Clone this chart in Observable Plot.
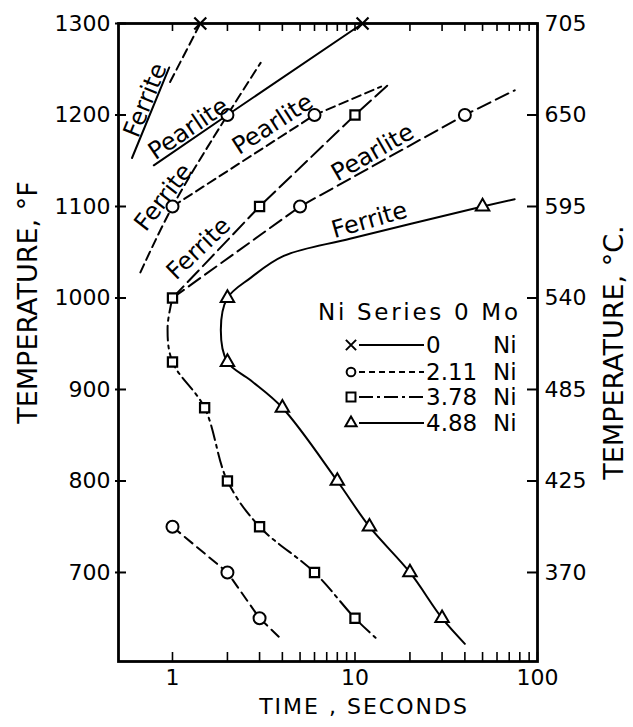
<!DOCTYPE html>
<html><head><meta charset="utf-8">
<script src="https://cdn.jsdelivr.net/npm/d3@7"></script>
<script src="https://cdn.jsdelivr.net/npm/@observablehq/plot@0.6"></script>
<style>
body{margin:0;background:#fff;}
#chart{width:633px;height:727px;}
</style></head><body><div id="chart"></div>
<script>
// ---- data ----
const timeTicks = [1,2,3,4,5,6,7,8,9,10,20,30,40,50,60,70,80,90,100];
const timeLabels = [1,10,100];
const tempF = [700,800,900,1000,1100,1200,1300];
const tempCLabels = ["370","425","485","540","595","650","705"];

// 0 Ni series (x marks, solid)
const ni0Ferrite = [[0.60,1153],[0.96,1252]];
const ni0FerriteUpper = [[0.97,1236],[1.42,1300]];
const ni0Pearlite = [[0.79,1145],[2,1200],[11,1300]];
const ni0Points = [[1.42,1300],[11,1300]];

// 2.11 Ni series (circles, dashed)
const ni211Ferrite = [[0.667,1028],[1,1100],[2,1200],[3.04,1257]];
const ni211Pearlite = [[1,1100],[6,1200],[13.9,1231]];
const ni211Lower = [[1,750],[2,700],[3,650],[4,626]];
const ni211Points = [[1,1100],[2,1200],[6,1200],[1,750],[2,700],[3,650]];

// 3.78 Ni series (squares, dash-dot)
const ni378Ferrite = [[1,1000],[3,1100],[10,1200],[15.8,1236]];
const ni378Pearlite = [[1,1000],[5,1100],[40,1200],[75,1227]];
const ni378PearlitePoints = [[5,1100],[40,1200]];
const ni378C = [[1,1000],[0.94,968],[1,930],[1.5,880],[2,800],[3,750],[6,700],[10,650],[13.4,626]];
const ni378Points = [[1,1000],[3,1100],[10,1200],[1,930],[1.5,880],[2,800],[3,750],[6,700],[10,650]];

// 4.88 Ni series (triangles, solid)
const ni488C = [[75,1108],[50,1100],[9.5,1065],[4.07,1046],[2.68,1022],[2,1000],[1.84,965],[2,930],[2.68,910],[4,880],[8,800],[12,750],[20,700],[30,650],[40,622]];
const ni488Points = [[50,1100],[2,1000],[2,930],[4,880],[8,800],[12,750],[20,700],[30,650]];

// phase annotations
const phaseLabels = ["Ferrite","Pearlite","Ferrite","Pearlite","Ferrite","Pearlite","Ferrite"];
const phaseTime = [0.711,1.224,0.893,3.54,1.39,12.5,12.0];
const phaseTemp = [1216,1185,1110,1190,1054,1159,1085];
const phaseAngle = [-68,-34,-52,-33,-44,-30,-16];

const legendTitle = "Ni Series 0 Mo";
const legendNi = ["0","2.11","3.78","4.88"];
const legendUnit = ["Ni","Ni","Ni","Ni"];

// ---- chart ----
const W = 633, H = 727;
const mL = 118, mR = 96, mT = 23, mB = 66;
const fw = W - mL - mR, fh = H - mT - mB;
const font = "'DejaVu Sans', sans-serif";
const X = d => d[0], Y = d => d[1];
const lineOpts = {x: X, y: Y, stroke: "black", strokeWidth: 2};
const dash2 = "9,5";
const dash3 = "15,5,3,5";
const timeTitle = "TIME , SECONDS";

const plot = Plot.plot({
  width: W, height: H,
  marginLeft: mL, marginRight: mR, marginTop: mT, marginBottom: mB,
  style: {fontFamily: font, background: "white", color: "black", overflow: "visible"},
  x: {type: "log", domain: [0.506, 100]},
  y: {domain: [602.7, 1300]},
  marks: [
    // ticks
    Plot.ruleX(timeTicks, {x: d => d, insetTop: fh - 9, stroke: "black", strokeWidth: 1.6}),
    Plot.ruleX(timeTicks, {x: d => d, insetBottom: fh - 8, stroke: "black", strokeWidth: 1.6}),
    Plot.ruleY(tempF, {y: d => d, insetLeft: -3, insetRight: fw - 8, stroke: "black", strokeWidth: 2}),
    Plot.ruleY(tempF, {y: d => d, insetLeft: fw - 10, stroke: "black", strokeWidth: 2}),
    Plot.axisX({ticks: timeLabels, anchor: "bottom", tickSize: 0, tickPadding: 8, fontSize: 22, label: null, tickFormat: d => String(d)}),
    Plot.axisY({ticks: tempF, anchor: "left", tickSize: 0, tickPadding: 8, fontSize: 22, label: null, tickFormat: d => String(d)}),
    Plot.axisY({ticks: tempF, anchor: "right", tickSize: 0, tickPadding: 7, fontSize: 22, label: null, tickFormat: d => tempCLabels[tempF.indexOf(d)]}),
    Plot.frame({stroke: "black", strokeWidth: 2.8}),
    // curves
    Plot.line(ni0Ferrite, lineOpts),
    Plot.line(ni0FerriteUpper, {...lineOpts, strokeDasharray: dash2}),
    Plot.line(ni0Pearlite, lineOpts),
    Plot.line(ni211Ferrite, {...lineOpts, curve: "catmull-rom", strokeDasharray: dash2}),
    Plot.line(ni211Pearlite, {...lineOpts, strokeDasharray: dash2}),
    Plot.line(ni211Lower, {...lineOpts, strokeDasharray: "10,6"}),
    Plot.line(ni378Ferrite, {...lineOpts, strokeDasharray: "16,6"}),
    Plot.line(ni378Pearlite, {...lineOpts, strokeDasharray: "14,6"}),
    Plot.line(ni378C, {...lineOpts, curve: "catmull-rom", strokeDasharray: dash3}),
    Plot.line(ni488C, {...lineOpts, curve: "catmull-rom"}),
    // markers
    Plot.dot(ni0Points, {x: X, y: Y, symbol: "times", r: 5.5, stroke: "black", strokeWidth: 2.2}),
    Plot.dot(ni211Points.concat(ni378PearlitePoints), {x: X, y: Y, symbol: "circle", r: 6, fill: "white", stroke: "black", strokeWidth: 2}),
    Plot.dot(ni378Points, {x: X, y: Y, symbol: "square", r: 5.2, fill: "white", stroke: "black", strokeWidth: 2.2}),
    Plot.dot(ni488Points, {x: X, y: Y, symbol: "triangle", r: 5, fill: "white", stroke: "black", strokeWidth: 2}),
    // phase labels
    Plot.text(phaseLabels, {x: (d, i) => phaseTime[i], y: (d, i) => phaseTemp[i], rotate: (d, i) => phaseAngle[i], text: d => d, fontSize: 24, fill: "black"}),
    // axis titles
    Plot.text(["TEMPERATURE, °F"], {frameAnchor: "left", dx: -90, dy: -40, rotate: -90, text: d => d, textAnchor: "middle", lineAnchor: "middle", fontSize: 27, fill: "black"}),
    Plot.text(["TEMPERATURE, °C."], {frameAnchor: "right", dx: 77, dy: 10, rotate: -90, text: d => d, textAnchor: "middle", lineAnchor: "middle", fontSize: 27, fill: "black"}),
    Plot.text([timeTitle], {frameAnchor: "bottom", dx: 36, dy: 45, text: d => d, textAnchor: "middle", lineAnchor: "middle", fontSize: 22, fill: "black"})
  ]
});

// widen the time title like the reference lettering
d3.select(plot).selectAll("text").filter(function () { return this.textContent === timeTitle; })
  .attr("letter-spacing", 2);

// ---- in-frame legend ----
const svg = d3.select(plot);
const lg = svg.append("g").attr("font-family", font).attr("fill", "black").attr("text-anchor", "start");
lg.append("text").attr("x", 318).attr("y", 312).attr("dy", "0.35em").attr("font-size", 23)
  .attr("textLength", 200).attr("lengthAdjust", "spacing").text(legendTitle);
const rowY = [345, 372, 397, 423];
const symbols = [d3.symbolTimes, d3.symbolCircle, d3.symbolSquare, d3.symbolTriangle2];
const sizes = [70, 60, 80, 90];
const dashes = [null, "6,4", "14,4,3,4", null];
legendNi.forEach((v, i) => {
  const y = rowY[i];
  lg.append("line").attr("x1", 359).attr("x2", 424).attr("y1", y).attr("y2", y)
    .attr("stroke", "black").attr("stroke-width", 2).attr("stroke-dasharray", dashes[i]);
  lg.append("path").attr("transform", `translate(351,${y})`)
    .attr("d", d3.symbol(symbols[i], sizes[i])()).attr("fill", i === 0 ? "none" : "white")
    .attr("stroke", "black").attr("stroke-width", 2);
  lg.append("text").attr("x", 426).attr("y", y).attr("dy", "0.35em").attr("font-size", 23).text(v);
  lg.append("text").attr("x", 493).attr("y", y).attr("dy", "0.35em").attr("font-size", 23).text(legendUnit[i]);
});

document.getElementById("chart").appendChild(plot);
</script>
</body></html>
